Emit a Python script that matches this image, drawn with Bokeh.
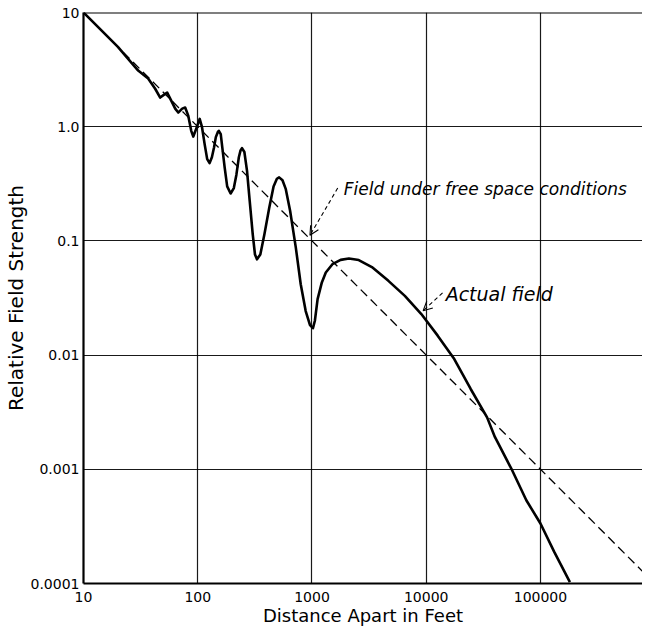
from bokeh.plotting import figure
from bokeh.models import FixedTicker, Span, Label, Arrow, OpenHead
from bokeh.embed import file_html
from bokeh.resources import INLINE

# ---- data ----
x_ticks = [10, 100, 1000, 10000, 100000]
x_tick_labels = ["10", "100", "1000", "10000", "100000"]
y_ticks = [0.0001, 0.001, 0.01, 0.1, 1, 10]
y_tick_labels = ["0.0001", "0.001", "0.01", "0.1", "1.0", "10"]

# free-space field (inverse distance): end points of the dashed line
free_x = [10, 1000000]
free_y = [10, 0.0001]

actual_x = [10, 20, 30.1, 36.8, 42.4, 46.9, 50.8, 54.0, 58.6, 63.5, 67.5, 73.1, 77.6,
            82.6, 87.7, 91.4, 97.0, 104, 109, 115, 121, 127, 133, 139, 144, 150, 153,
            159, 164, 172, 181, 194, 207, 218, 229, 237, 244, 256, 270, 285, 303, 317,
            330, 353, 383, 423, 461, 493, 516, 552, 590, 644, 722, 797, 881, 961, 1020,
            1060, 1120, 1220, 1321, 1510, 1782, 2104, 2567, 3345, 4665, 6500, 9060,
            12600, 17600, 24500, 34100, 39900, 55700, 75200, 100000, 132000, 181000]
actual_y = [10, 5.0, 3.10, 2.64, 2.15, 1.80, 1.91, 1.99, 1.69, 1.44, 1.33, 1.44, 1.47,
            1.25, 0.92, 0.82, 0.96, 1.17, 0.99, 0.70, 0.52, 0.48, 0.54, 0.66, 0.81, 0.90,
            0.92, 0.86, 0.66, 0.44, 0.30, 0.26, 0.29, 0.38, 0.54, 0.62, 0.65, 0.60, 0.41,
            0.224, 0.114, 0.076, 0.069, 0.076, 0.114, 0.196, 0.30, 0.35, 0.36, 0.34,
            0.284, 0.183, 0.0874, 0.0417, 0.0243, 0.0183, 0.0172, 0.0200, 0.0309, 0.0433,
            0.0529, 0.0625, 0.0682, 0.0702, 0.0680, 0.0590, 0.0447, 0.0330, 0.0229,
            0.0148, 0.00923, 0.00505, 0.00285, 0.00192, 0.00101, 0.000536, 0.000335,
            0.000189, 0.000103]

free_label = "Field under free space conditions"
free_label_pos = (1900, 0.285)
free_arrow = (1680, 0.29, 960, 0.112)
actual_label = "Actual field"
actual_label_pos = (14800, 0.034)
actual_arrow = (13900, 0.035, 9400, 0.0245)

FONT = "DejaVu Sans"

p = figure(width=642, height=628, x_axis_type="log", y_axis_type="log",
           x_range=(10, 782000), y_range=(0.0001, 10),
           output_backend="svg", toolbar_location=None,
           min_border_left=83, min_border_right=0, min_border_top=12, min_border_bottom=30)
p.outline_line_color = None
p.background_fill_color = "white"
p.border_fill_color = "white"

# grid
p.xgrid.ticker = FixedTicker(ticks=x_ticks)
p.ygrid.ticker = FixedTicker(ticks=y_ticks)
for g in (p.xgrid, p.ygrid):
    g.grid_line_color = "black"
    g.grid_line_width = 1.2
    g.grid_line_alpha = 0.9

# axes
p.xaxis.ticker = FixedTicker(ticks=x_ticks)
p.yaxis.ticker = FixedTicker(ticks=y_ticks)
p.xaxis.major_label_overrides = {t: l for t, l in zip(x_ticks, x_tick_labels)}
p.yaxis.major_label_overrides = {t: l for t, l in zip(y_ticks, y_tick_labels)}
for ax in (p.xaxis, p.yaxis):
    ax.axis_line_width = 2.2
    ax.axis_line_color = "black"
    ax.major_tick_line_color = None
    ax.minor_tick_line_color = None
    ax.major_tick_out = 0
    ax.major_tick_in = 0
    ax.major_label_text_font = FONT
    ax.major_label_text_font_size = "14px"
    ax.major_label_text_color = "black"
    ax.axis_label_text_font = FONT
    ax.axis_label_text_font_style = "normal"
    ax.axis_label_text_color = "black"
p.xaxis.axis_label_text_font_size = "18px"
p.yaxis.axis_label_text_font_size = "20px"
p.xaxis.major_label_standoff = 8
p.yaxis.major_label_standoff = 4
p.xaxis.axis_label = "Distance Apart in Feet"
p.yaxis.axis_label = "Relative Field Strength"
p.xaxis.axis_label_standoff = 0
p.yaxis.axis_label_standoff = 0

# top border
p.add_layout(Span(location=10, dimension="width", line_color="black", line_width=2.2))

# curves
p.line(free_x, free_y, line_color="black", line_width=1.3, line_dash="9 5")
p.line(actual_x, actual_y, line_color="black", line_width=2.6, line_join="round")

# annotations
p.add_layout(Label(x=free_label_pos[0], y=free_label_pos[1], text=free_label,
                   text_font=FONT, text_font_style="italic", text_font_size="17px",
                   text_baseline="middle", text_color="black"))
p.add_layout(Label(x=actual_label_pos[0], y=actual_label_pos[1], text=actual_label,
                   text_font=FONT, text_font_style="italic", text_font_size="19px",
                   text_baseline="middle", text_color="black"))
for (xs, ys, xe, ye) in (free_arrow, actual_arrow):
    p.add_layout(Arrow(end=OpenHead(size=9, line_width=1.1, line_color="black"),
                       x_start=xs, y_start=ys, x_end=xe, y_end=ye,
                       line_color="black", line_width=1.1, line_dash="4 3"))

open("out.html", "w").write(file_html(p, INLINE))
